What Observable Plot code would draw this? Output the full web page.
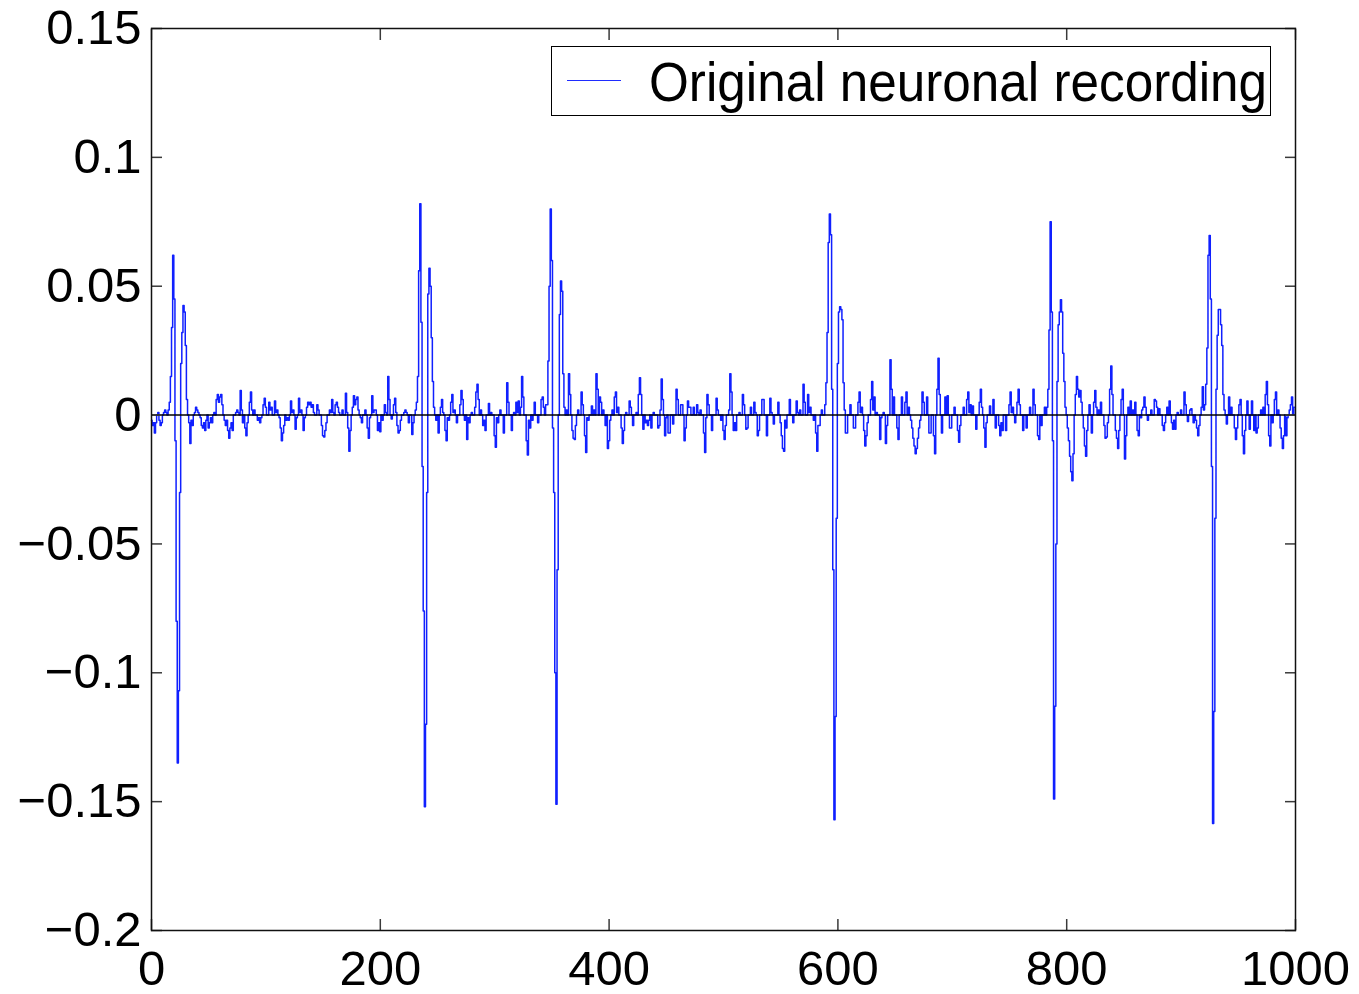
<!DOCTYPE html>
<html>
<head>
<meta charset="utf-8">
<script src="https://cdn.jsdelivr.net/npm/d3@7"></script>
<script src="https://cdn.jsdelivr.net/npm/@observablehq/plot@0.6"></script>
<style>
  html, body { margin: 0; padding: 0; background: #fff; }
  #wrap { position: relative; width: 1359px; height: 994px; }
  #legend {
    position: absolute; left: 551px; top: 46px; width: 720px; height: 70px;
    border: 1.5px solid #000; background: #fff; box-sizing: border-box;
    font-family: "Liberation Sans", Arial, sans-serif;
  }
  #legend .swatch { position: absolute; left: 15px; top: 33px; width: 54px; height: 0; border-top: 1px solid #1f2cff; }
  #legend .label {
    position: absolute; left: 97px; top: 7px; font-size: 56px; line-height: 1;
    white-space: nowrap; transform: scaleX(0.915); transform-origin: 0 0; color: #000;
  }
</style>
</head>
<body>
<div id="wrap"></div>
<script>
const recording = [
  // 0-19
  -2, -4, -3, -7, -3, 0, 1, -2, -4, -3, 0, 1, 2, 1, 0, 2, 5, 15, 34, 62,
  // 20-39
  45, -10, -80, -135, -107, -30, 20, 32, 42.5, 40, 27, 6, 0, -3, -11, -2, -4, 0, 1, 3,
  // 40-59
  2, 1, 0, -1, -4, -5, -3, -6, -2, 0, -5, -3, -1, -3, 0, 1, 0, 6, 8, 5,
  // 60-79
  7, 8, 4, 0, -2, -4, -2, -6, -9, -5, -3, -6, 0, 0, 1, 2, 1, 0, 9.5, 2,
  // 80-99
  -3, 0, -5, -8, -3, 0, 5, 9, 2, 0, 2, 0, 0, -2, -1, -3, -1, 0, 4, 6.5,
  // 100-119
  3, 0, 0, 5, 2, 3, 0, 0, 5.5, 1, 2, 0, -1, -5, -10, -7, -4, 0, -2, -1,
  // 120-139
  -2, 0, 5.5, 1, 2, 0, -5.5, -1, 0, 6.5, 1, 2, 0, -6, -1, 0, 3, 5, 4, 5,
  // 140-159
  3, 4, 1, 0, 0, 4, 2, 0, 0, -4, -8, -8.5, -6, -3, 0, 0, 2, 1, 6, 1,
  // 160-179
  0, 4, 5, 3, 1, 0, 0, 2, 0, 0, 8.5, 1, -5, -14, -6, 0, 3, 7.5, 4, 6,
  // 180-199
  7, 2, 0, -1, -3, 0, 0, 2, 0, -5, -9, -1, 0, 7.5, 1, 2, 2, 0, -6, -3,
  // 200-219
  -6.5, 0, -2, 0, 4, 1, 0, 15, 6, 0, -1.5, 0, 4, 6.5, 1, -4, -7, -6, -2, 0,
  // 220-239
  0, 1, 2, 1, 0, -3, 0, 0, -7.5, -3, 0, 2, 5, 15, 56, 82, 36, -20, -76, -152,
  // 240-259
  -120, -30, 47, 57, 50, 30, 13, 3, 0, -2, 0, -7, 0, 3, 6, 1, 0, -6, -10, -1,
  // 260-279
  -2, 0, 5, 8, 1, 2, 0, -3, 0, 0, 4, 9.5, 6, 0, -2, 0, -9.5, -1, -3, 0,
  // 280-299
  1, 0, 0, 3, 9, 12, 6, 0, 2, 0, -4, -2, -6, 0, 0, 4.5, 0, 1, 0, 0,
  // 300-319
  -8, -12.5, -1, -3, 0, 2, 0, 0, -7, 0, 0, 12.5, 5, 0, 0, -6, 0, 1, 0, 5,
  // 320-339
  1, 5.5, 0, 3, 15, 7, 0, 0, -10, -15.5, -2, -5, 0, -2, 0, 5, 0, 0, -3, 0,
  // 340-359
  0, 6, 7, 3, 0, 4, 4, 21, 50, 80, 60, -5, -30, -100, -151, -60, 0, 39, 52, 48,
  // 360-379
  16, 3, 0, 2, 0, 16, 8, 0, -6, -9, -9.5, -4, 0, 2, 0, 0, 9, 4, 0, -8,
  // 380-399
  -14.5, -1, -2, 0, 0, 3.5, 0, 2, 0, 16, 10, 0, 7, 5, 0, 2, 0, -4, 0, -13,
  // 400-419
  -10, -2, 0, 2, 0, 7, 9, 1, 3, 0, 0, -5, -11, -6, 0, 1, 0, 0, 5.5, 3,
  // 420-439
  0, -4, 0, 0, 1, 0, 8, 14.5, 8, 0, -5.5, 0, -3, -2, -4, -2, 0, -5, 0, 1,
  // 440-459
  0, 0, 0, -5, -4, 2, 14, 6, 0, -8, -1, 0, -7, -7, 0, 0, -3.5, 0, 0, 10,
  // 460-479
  6, 0, 0, 4, 4, 0, -10, -5, 0, 5.5, 3, 3, 0, 0, 3, 0, 0, 4, 1, 0,
  // 480-499
  2, 0, 0, -7, -14.5, -1, 8, 4, 0, 0, -6, 0, 0, 0, 6.5, 2, 0, 0, -2, 0,
  // 500-519
  -6, -9.5, -4, 0, 0, 2, 16, 9, 0, -6, -3, -6, 0, 0, 1, 0, 0, 8, 4, 0,
  // 520-539
  -5.5, -5, 0, 0, 3, 0, 0, 5, 1, 0, -8, -6, 0, 0, 6, 6, 0, 0, -8, 0,
  // 540-559
  0, 6.5, 1, 0, -3.5, 0, 0, 0, 5, 0, -3, -8, -13, -14, -2, -5, 0, 0, 6, 0,
  // 560-579
  0, -3, 0, 0, 5.5, 1, 0, 2, 0, 0, 12, 5, 0, 0, 8, 1, 3, 0, 0, -2,
  // 580-599
  0, -7, -14, -4, -4, 0, 2, 0, 0, 4, 12.5, 32, 67, 78, 70, 10, -60, -157, -117, -40,
  // 600-619
  20, 40, 42, 41, 37, 12.5, 2, -7, -7, 0, 0, 4, 0, 0, -5, -5, 0, 0, 5, 9,
  // 620-639
  1, 3, 0, -6, -12, -8, -3, 0, 0, 6, 13, 2, 7, 0, 1, 0, 0, -9.5, -1, 0,
  // 640-659
  1, 0, -11, -4, 0, 0, 21.5, 10, 0, 7, 0, 0, -5, -9.5, 0, 0, 7, 0, 0, 5,
  // 660-679
  9, 0, 3, 0, -2, -5, -9, -12, -15, -13, -9, -5, -2, 0, 9, 5, 0, 0, 7, 0,
  // 680-699
  -7, -7, 0, 0, -8, -15, 0, 10, 22, 8, 0, -7, 0, 0, 7, 0, 7.5, 0, -5, -5,
  // 700-719
  0, 0, 3, 0, 0, -6, -10.5, -4, 0, 0, 3, 0, 0, 6, 9, 1, 4, 0, 3.5, 0,
  // 720-739
  0, -5.5, 0, 0, 5, 10, 3, 0, -5, -12.5, -3, 0, 0, 3.5, 0, 0, 6, 0, -5, 0,
  // 740-759
  0, -4, -8, -3, -6, 0, 0, -6, 0, 0, 4, 9, 1, 3, 0, -3, 0, 5, 10, 4,
  // 760-779
  0, 0, -6, 0, 0, -5, 0, 0, 3, 0, 0, 10, 4, 0, 0, -8, -9.5, 0, -4, 0,
  // 780-799
  0, 3, 0, 3, 10, 33, 75, 40, -10, -149, -113, -50, 13, 35, 40, 44.7, 40, 24, 13, 3,
  // 800-819
  0, -5, -10, -16, -22, -25.5, -15, 0, 8, 15, 10, 7, 9.5, 5, 0, -5, -12, -16, -6, 0,
  // 820-839
  4, 0, -7, 0, 5, 9.5, 3, 0, 2, 0, 5, 0, 0, -4, -9, -8.5, -3, 0, 10, 19,
  // 840-859
  8, 0, 0, -6, -9, -13, -6, 0, 6, 10, 0, -17, -8, 0, 3, 0, 5.5, 0, 2, 0,
  // 860-879
  5, 0, -6, -8, 0, -1, 2, 3, 7, 3, 0, -2, 0, 0, 2, 0, 0, 6, 5.5, 3,
  // 880-899
  0, 2.5, 0, 0, -4, -6, -3, 0, 3, 0, 5.5, 0, -3, -5.5, -2, -5.5, 0, 1, 0, 0,
  // 900-919
  2, 0, 0, 9, 4, 0, -2.5, 0, 2, 2.5, 0, -3, 0, -2, -5, -8, -4, 0, 3, 11,
  // 920-939
  2, 4, 12, 26, 62, 69.7, 45, -20, -158.5, -115, -40, 10, 31, 41, 41, 35, 27, 8, 2, 0,
  // 940-959
  -3.5, 0, 7, 0, 3, 0, 0, -5, -9.5, -5, 0, 4, 6, 0, -8, -15, -6, 0, 5.5, 0,
  // 960-979
  -5.5, 0, 5.5, 0, -6, 0, -7, -5, 0, 0, 2, 0, 3, 0, 8, 13, 4, -8, -12, 0,
  // 980-999
  -3, 0, 6, 9, 0, 2, 0, -5, -9, -13, -8, 0, -8, -1, 0, 2, 4, 7, 0, 3
];
const amplitudeUnit = 0.001;

const xTicks = [0, 200, 400, 600, 800, 1000];
const yTicks = [0.15, 0.1, 0.05, 0, -0.05, -0.1, -0.15, -0.2];
const yTickLabels = ["0.15", "0.1", "0.05", "0", "\u22120.05", "\u22120.1", "\u22120.15", "\u22120.2"];
const xDomain = [0, 1000];
const yDomain = [-0.2, 0.15];
const seriesName = "Original neuronal recording";

const samples = recording.map((v, i) => ({t: i, v: v * amplitudeUnit}));

const fontFamily = "'Liberation Sans', Arial, Helvetica, sans-serif";
const tickColor = "#3a3a3a";

const chart = Plot.plot({
  width: 1359,
  height: 994,
  marginLeft: 151,
  marginRight: 64,
  marginTop: 28,
  marginBottom: 64,
  style: {fontFamily, background: "#fff", color: "#000", overflow: "visible"},
  x: {domain: xDomain},
  y: {domain: yDomain},
  marks: [
    Plot.lineY(samples, {x: "t", y: "v", stroke: "#1020ff", strokeWidth: 1.5, curve: "step"}),
    Plot.ruleY([0], {stroke: "#000", strokeWidth: 1.6}),
    // inward ticks on all four sides
    Plot.axisX(xTicks, {anchor: "bottom", tickSize: -11, tickFormat: () => "", stroke: tickColor, strokeWidth: 1.5, label: null}),
    Plot.axisX(xTicks, {anchor: "top", tickSize: -11, tickFormat: () => "", stroke: tickColor, strokeWidth: 1.5, label: null}),
    Plot.axisY(yTicks, {anchor: "left", tickSize: -11, tickFormat: () => "", stroke: tickColor, strokeWidth: 1.5, label: null}),
    Plot.axisY(yTicks, {anchor: "right", tickSize: -11, tickFormat: () => "", stroke: tickColor, strokeWidth: 1.5, label: null}),
    // tick labels
    Plot.axisX(xTicks, {anchor: "bottom", tickSize: 0, tickPadding: 20, fontSize: 49, fill: "#000", label: null,
      tickFormat: d => String(d)}),
    Plot.axisY(yTicks, {anchor: "left", tickSize: 0, tickPadding: 10, fontSize: 49, fill: "#000", label: null,
      tickFormat: d => yTickLabels[yTicks.indexOf(d)]}),
    Plot.frame({stroke: "#111", strokeWidth: 1.5})
  ]
});

const wrap = document.getElementById("wrap");
wrap.appendChild(chart);

const legend = document.createElement("div");
legend.id = "legend";
legend.innerHTML = '<div class="swatch"></div><div class="label"></div>';
legend.querySelector(".label").textContent = seriesName;
wrap.appendChild(legend);
</script>
</body>
</html>
